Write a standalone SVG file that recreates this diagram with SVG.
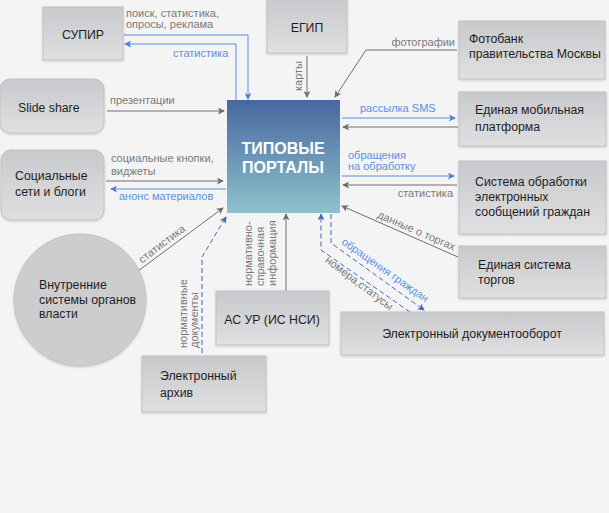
<svg xmlns="http://www.w3.org/2000/svg" width="609" height="513" viewBox="0 0 609 513">
<defs>
<linearGradient id="gBox" x1="0" y1="0" x2="0" y2="1">
<stop offset="0" stop-color="#c8c9cc"/>
<stop offset="1" stop-color="#e0e0e2"/>
</linearGradient>
<linearGradient id="gMain" x1="0" y1="0" x2="0" y2="1">
<stop offset="0" stop-color="#4867a0"/>
<stop offset="1" stop-color="#8dc2cc"/>
</linearGradient>
<filter id="sh" x="-10%" y="-10%" width="120%" height="130%">
<feDropShadow dx="0" dy="1" stdDeviation="1" flood-color="#000" flood-opacity="0.18"/>
</filter>
<marker id="ag" viewBox="0 0 8 8" refX="7" refY="4" markerWidth="7" markerHeight="7" markerUnits="userSpaceOnUse" orient="auto">
<path d="M0,0 L8,4 L0,8 L2,4 z" fill="#6e6e6e"/>
</marker>
<marker id="ab" viewBox="0 0 8 8" refX="7" refY="4" markerWidth="7" markerHeight="7" markerUnits="userSpaceOnUse" orient="auto">
<path d="M0,0 L8,4 L0,8 L2,4 z" fill="#4f7fd0"/>
</marker>
<marker id="ad" viewBox="0 0 8 8" refX="7" refY="4" markerWidth="7" markerHeight="7" markerUnits="userSpaceOnUse" orient="auto">
<path d="M0,0 L8,4 L0,8 L2,4 z" fill="#3f6ab8"/>
</marker>
</defs>
<style>
.box{fill:url(#gBox);stroke:#c2c2c4;stroke-width:1;filter:url(#sh)}
.nt{font-family:"Liberation Sans",Arial,sans-serif;font-size:12.3px;fill:#1e1e1e}
.lg{font-family:"Liberation Sans",Arial,sans-serif;font-size:11px;fill:#7a7a7a}
.lb{font-family:"Liberation Sans",Arial,sans-serif;font-size:11px;fill:#5b8fe3}
.cg{fill:none;stroke:#6e6e6e;stroke-width:1;marker-end:url(#ag)}
.cb{fill:none;stroke:#5a8ce0;stroke-width:1;marker-end:url(#ab)}
.cd{fill:none;stroke:#3f6ab8;stroke-width:1;stroke-dasharray:5,3;marker-end:url(#ad)}
</style>
<rect width="609" height="513" fill="#f4f4f4"/>

<g id="connectors">
<path class="cb" d="M124,35 H248 V99"/>
<path class="cb" d="M236,100 V44 H125"/>
<path class="cg" d="M307,56 V97"/>
<path class="cg" d="M457,50 H366 L335,97"/>
<path class="cg" d="M107,111 H224"/>
<path class="cb" d="M342,118 H455"/>
<path class="cg" d="M458,127 H343"/>
<path class="cb" d="M342,176 H454"/>
<path class="cg" d="M457,185 H343"/>
<path class="cg" d="M458,257 L342,206"/>
<path class="cg" d="M106,181 H223"/>
<path class="cb" d="M226,189 H111"/>
<path class="cg" d="M138,271 L223,208"/>
<path class="cd" d="M202,353 V257 L226,217"/>
<path class="cg" d="M286,291 V214"/>
<path class="cd" d="M410,312 L321,250 V214"/>
<path class="cd" d="M331,214 V243 L424,310"/>

<text class="lg" x="126" y="17">поиск, статистика,</text>
<text class="lg" x="126" y="28">опросы, реклама</text>
<text class="lb" x="173" y="57">статистика</text>
<text class="lg" transform="translate(302,76) rotate(-90)" text-anchor="middle">карты</text>
<text class="lg" x="455" y="46" text-anchor="end">фотографии</text>
<text class="lg" x="110" y="104">презентации</text>
<text class="lb" x="360" y="112">рассылка SMS</text>
<text class="lb" x="348" y="159">обращения</text>
<text class="lb" x="348" y="170">на обработку</text>
<text class="lg" x="453" y="197" text-anchor="end">статистика</text>
<text class="lg" transform="translate(415,234) rotate(23.5)" text-anchor="middle">данные о торгах</text>
<text class="lg" x="111" y="162">социальные кнопки,</text>
<text class="lg" x="111" y="175">виджеты</text>
<text class="lb" x="119" y="200">анонс материалов</text>
<text class="lg" transform="translate(164,247) rotate(-37)" text-anchor="middle">статистика</text>
<text class="lg" transform="translate(187,348) rotate(-90)">нормативные</text>
<text class="lg" transform="translate(198,348) rotate(-90)">документы</text>
<text class="lg" transform="translate(252,286) rotate(-90)">нормативно-</text>
<text class="lg" transform="translate(264,286) rotate(-90)">справочная</text>
<text class="lg" transform="translate(276,286) rotate(-90)">информация</text>
<text class="lb" transform="translate(383,273) rotate(35)" text-anchor="middle">обращения граждан</text>
<text class="lg" transform="translate(357,286) rotate(37)" text-anchor="middle">номера,статусы</text>
</g>

<g id="n-supir">
<rect class="box" x="43" y="7" width="80" height="53"/>
<text class="nt" x="83" y="39" text-anchor="middle">СУПИР</text>
</g>
<g id="n-egip">
<rect class="box" x="267" y="-2" width="80" height="55"/>
<text class="nt" x="307" y="32" text-anchor="middle">ЕГИП</text>
</g>
<g id="n-slideshare">
<rect class="box" x="0" y="79" width="104" height="54" rx="10"/>
<text class="nt" x="18" y="112">Slide share</text>
</g>
<g id="n-fotobank">
<rect class="box" x="459" y="21" width="146" height="58"/>
<text class="nt" x="469" y="43">Фотобанк</text>
<text class="nt" x="469" y="58">правительства Москвы</text>
</g>
<g id="n-mobile">
<rect class="box" x="459" y="92" width="147" height="54"/>
<text class="nt" x="475" y="114">Единая мобильная</text>
<text class="nt" x="475" y="131">платформа</text>
</g>
<g id="n-sobr">
<rect class="box" x="459" y="161" width="147" height="73"/>
<text class="nt" x="475" y="186">Система обработки</text>
<text class="nt" x="475" y="201">электронных</text>
<text class="nt" x="475" y="216">сообщений граждан</text>
</g>
<g id="n-torgi">
<rect class="box" x="459" y="246" width="147" height="52"/>
<text class="nt" x="478" y="269">Единая система</text>
<text class="nt" x="478" y="284">торгов</text>
</g>
<g id="n-edo">
<rect class="box" x="341" y="312" width="263" height="43"/>
<text class="nt" x="472" y="338" text-anchor="middle">Электронный документооборот</text>
</g>
<g id="n-asur">
<rect class="box" x="216" y="291" width="113" height="54"/>
<text class="nt" x="272" y="324" text-anchor="middle">АС УР (ИС НСИ)</text>
</g>
<g id="n-archive">
<rect class="box" x="142" y="356" width="124" height="56"/>
<text class="nt" x="160" y="380">Электронный</text>
<text class="nt" x="160" y="397">архив</text>
</g>
<g id="n-internal">
<circle cx="80" cy="300" r="66" fill="#cdcdcf" stroke="#c2c2c4" style="filter:url(#sh)"/>
<text class="nt" x="39" y="289">Внутренние</text>
<text class="nt" x="39" y="304">системы органов</text>
<text class="nt" x="39" y="318">власти</text>
</g>
<g id="n-social">
<rect class="box" x="1" y="150" width="103" height="70" rx="10"/>
<text class="nt" x="15" y="180">Социальные</text>
<text class="nt" x="15" y="196">сети и блоги</text>
</g>
<g id="n-portal">
<rect x="227" y="100" width="113" height="113" fill="url(#gMain)"/>
<text x="283" y="154" text-anchor="middle" font-family="'Liberation Sans',Arial,sans-serif" font-size="16" font-weight="bold" fill="#ffffff">ТИПОВЫЕ</text>
<text x="283" y="173" text-anchor="middle" font-family="'Liberation Sans',Arial,sans-serif" font-size="16" font-weight="bold" fill="#ffffff">ПОРТАЛЫ</text>
</g>
</svg>
